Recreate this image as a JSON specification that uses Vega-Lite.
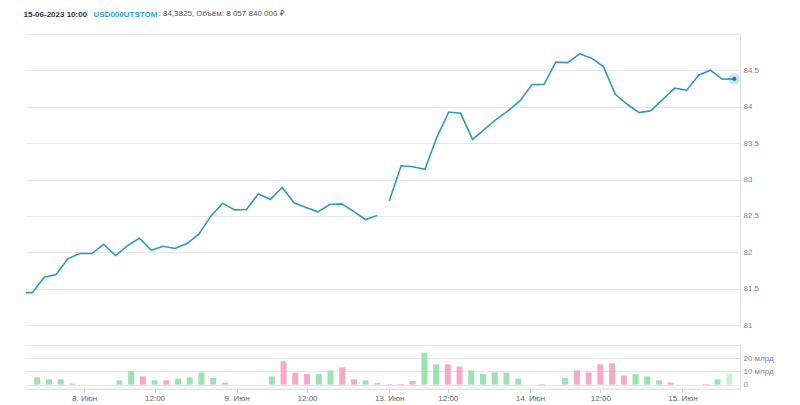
{
  "$schema": "https://vega.github.io/schema/vega-lite/v6.json",
  "padding": {"left": 23, "top": 9, "right": 0, "bottom": 0},
  "config": {"font": "Liberation Sans", "view": {"stroke": null}},
  "datasets": {
    "d": [
      {"i": -1, "t": "2023-06-07 14:00", "price": 81.445, "session": "a"},
      {"i": 0, "t": "2023-06-07 15:00", "price": 81.445, "session": "a", "vol": 5.5, "dir": "up"},
      {"i": 1, "t": "2023-06-07 16:00", "price": 81.656, "session": "a", "vol": 4.0, "dir": "up"},
      {"i": 2, "t": "2023-06-07 17:00", "price": 81.693, "session": "a", "vol": 4.0, "dir": "up"},
      {"i": 3, "t": "2023-06-07 18:00", "price": 81.913, "session": "a", "vol": 0.7, "dir": "up"},
      {"i": 4, "t": "2023-06-08 06:00", "price": 81.982, "session": "a", "vol": 0, "dir": "up"},
      {"i": 5, "t": "2023-06-08 07:00", "price": 81.982, "session": "a", "vol": 0, "dir": "up"},
      {"i": 6, "t": "2023-06-08 08:00", "price": 82.110, "session": "a", "vol": 0, "dir": "up"},
      {"i": 7, "t": "2023-06-08 09:00", "price": 81.955, "session": "a", "vol": 3.3, "dir": "up"},
      {"i": 8, "t": "2023-06-08 10:00", "price": 82.092, "session": "a", "vol": 10.1, "dir": "up"},
      {"i": 9, "t": "2023-06-08 11:00", "price": 82.193, "session": "a", "vol": 6.3, "dir": "down"},
      {"i": 10, "t": "2023-06-08 12:00", "price": 82.028, "session": "a", "vol": 3.3, "dir": "up"},
      {"i": 11, "t": "2023-06-08 13:00", "price": 82.083, "session": "a", "vol": 3.3, "dir": "down"},
      {"i": 12, "t": "2023-06-08 14:00", "price": 82.051, "session": "a", "vol": 4.5, "dir": "up"},
      {"i": 13, "t": "2023-06-08 15:00", "price": 82.120, "session": "a", "vol": 5.5, "dir": "up"},
      {"i": 14, "t": "2023-06-08 16:00", "price": 82.248, "session": "a", "vol": 9.3, "dir": "up"},
      {"i": 15, "t": "2023-06-08 17:00", "price": 82.496, "session": "a", "vol": 5.0, "dir": "up"},
      {"i": 16, "t": "2023-06-08 18:00", "price": 82.675, "session": "a", "vol": 1.5, "dir": "down"},
      {"i": 17, "t": "2023-06-09 06:00", "price": 82.583, "session": "a", "vol": 0, "dir": "up"},
      {"i": 18, "t": "2023-06-09 07:00", "price": 82.588, "session": "a", "vol": 0, "dir": "up"},
      {"i": 19, "t": "2023-06-09 08:00", "price": 82.803, "session": "a", "vol": 0, "dir": "up"},
      {"i": 20, "t": "2023-06-09 09:00", "price": 82.726, "session": "a", "vol": 6.3, "dir": "up"},
      {"i": 21, "t": "2023-06-09 10:00", "price": 82.891, "session": "a", "vol": 17.6, "dir": "down"},
      {"i": 22, "t": "2023-06-09 11:00", "price": 82.679, "session": "a", "vol": 9.1, "dir": "down"},
      {"i": 23, "t": "2023-06-09 12:00", "price": 82.616, "session": "a", "vol": 8.1, "dir": "down"},
      {"i": 24, "t": "2023-06-09 13:00", "price": 82.555, "session": "a", "vol": 8.1, "dir": "up"},
      {"i": 25, "t": "2023-06-09 14:00", "price": 82.657, "session": "a", "vol": 10.8, "dir": "up"},
      {"i": 26, "t": "2023-06-09 15:00", "price": 82.665, "session": "a", "vol": 13.1, "dir": "down"},
      {"i": 27, "t": "2023-06-09 16:00", "price": 82.561, "session": "a", "vol": 4.0, "dir": "down"},
      {"i": 28, "t": "2023-06-09 17:00", "price": 82.450, "session": "a", "vol": 3.3, "dir": "up"},
      {"i": 29, "t": "2023-06-09 18:00", "price": 82.506, "session": "a", "vol": 1.2, "dir": "up"},
      {"i": 30, "t": "2023-06-13 07:00", "price": 82.704, "session": "b", "vol": 0.5, "dir": "down"},
      {"i": 31, "t": "2023-06-13 08:00", "price": 83.189, "session": "b", "vol": 0.5, "dir": "down"},
      {"i": 32, "t": "2023-06-13 09:00", "price": 83.175, "session": "b", "vol": 2.7, "dir": "down"},
      {"i": 33, "t": "2023-06-13 10:00", "price": 83.139, "session": "b", "vol": 24.2, "dir": "up"},
      {"i": 34, "t": "2023-06-13 11:00", "price": 83.580, "session": "b", "vol": 15.4, "dir": "up"},
      {"i": 35, "t": "2023-06-13 12:00", "price": 83.928, "session": "b", "vol": 15.4, "dir": "down"},
      {"i": 36, "t": "2023-06-13 13:00", "price": 83.910, "session": "b", "vol": 13.6, "dir": "down"},
      {"i": 37, "t": "2023-06-13 14:00", "price": 83.552, "session": "b", "vol": 10.8, "dir": "up"},
      {"i": 38, "t": "2023-06-13 15:00", "price": 83.690, "session": "b", "vol": 8.1, "dir": "up"},
      {"i": 39, "t": "2023-06-13 16:00", "price": 83.828, "session": "b", "vol": 9.3, "dir": "up"},
      {"i": 40, "t": "2023-06-13 17:00", "price": 83.946, "session": "b", "vol": 9.1, "dir": "up"},
      {"i": 41, "t": "2023-06-13 18:00", "price": 84.084, "session": "b", "vol": 4.5, "dir": "up"},
      {"i": 42, "t": "2023-06-14 06:00", "price": 84.304, "session": "b", "vol": 0, "dir": "up"},
      {"i": 43, "t": "2023-06-14 07:00", "price": 84.305, "session": "b", "vol": 0.5, "dir": "down"},
      {"i": 44, "t": "2023-06-14 08:00", "price": 84.613, "session": "b", "vol": 0, "dir": "up"},
      {"i": 45, "t": "2023-06-14 09:00", "price": 84.607, "session": "b", "vol": 5.0, "dir": "up"},
      {"i": 46, "t": "2023-06-14 10:00", "price": 84.727, "session": "b", "vol": 10.8, "dir": "down"},
      {"i": 47, "t": "2023-06-14 11:00", "price": 84.668, "session": "b", "vol": 9.3, "dir": "down"},
      {"i": 48, "t": "2023-06-14 12:00", "price": 84.552, "session": "b", "vol": 15.4, "dir": "down"},
      {"i": 49, "t": "2023-06-14 13:00", "price": 84.172, "session": "b", "vol": 16.1, "dir": "down"},
      {"i": 50, "t": "2023-06-14 14:00", "price": 84.034, "session": "b", "vol": 7.0, "dir": "down"},
      {"i": 51, "t": "2023-06-14 15:00", "price": 83.919, "session": "b", "vol": 8.1, "dir": "up"},
      {"i": 52, "t": "2023-06-14 16:00", "price": 83.946, "session": "b", "vol": 6.3, "dir": "up"},
      {"i": 53, "t": "2023-06-14 17:00", "price": 84.103, "session": "b", "vol": 3.3, "dir": "up"},
      {"i": 54, "t": "2023-06-14 18:00", "price": 84.255, "session": "b", "vol": 1.5, "dir": "down"},
      {"i": 55, "t": "2023-06-15 06:00", "price": 84.227, "session": "b", "vol": 0, "dir": "up"},
      {"i": 56, "t": "2023-06-15 07:00", "price": 84.434, "session": "b", "vol": 0, "dir": "up"},
      {"i": 57, "t": "2023-06-15 08:00", "price": 84.503, "session": "b", "vol": 0.5, "dir": "down"},
      {"i": 58, "t": "2023-06-15 09:00", "price": 84.379, "session": "b", "vol": 4.0, "dir": "up"},
      {"i": 59, "t": "2023-06-15 10:00", "price": 84.3825, "session": "b", "vol": 8.06, "dir": "hover"}
    ]
  },
  "spacing": 20,
  "bounds": "flush",
  "vconcat": [
    {
      "width": 714,
      "height": 291,
      "data": {"name": "d"},
      "encoding": {
        "x": {
          "field": "i", "type": "quantitative",
          "scale": {"domain": [-0.53, 59.48], "nice": false, "zero": false},
          "axis": {
            "orient": "top", "labels": false, "ticks": false, "domain": false, "grid": false,
            "title": "USD000UTSTOM", "titleX": 67, "titleY": -18, "titleAlign": "left", "titleAnchor": "start",
            "titleBaseline": "alphabetic", "titleColor": "#3aa0cf", "titleFontWeight": "bold", "titleFontSize": 8
          }
        },
        "y": {
          "field": "price", "type": "quantitative",
          "scale": {"domain": [81, 85], "nice": false, "zero": false},
          "axis": {
            "orient": "right", "values": [81, 81.5, 82, 82.5, 83, 83.5, 84, 84.5, 85],
            "labelExpr": "datum.value == 85 ? '' : format(datum.value, '.1~f')",
            "labelOverlap": false, "labelBound": false,
            "grid": true, "gridColor": "#e6e6e6", "ticks": false, "domain": true, "domainColor": "#e3e3e3",
            "labelPadding": 3, "labelFontSize": 8, "labelColor": "#7a8591", "labelBaseline": "middle",
            "title": "15-06-2023 10:00", "titleAngle": 0, "titleX": -717, "titleY": -18, "titleAlign": "left",
            "titleAnchor": "start", "titleBaseline": "alphabetic", "titleColor": "#333333", "titleFontWeight": "bold", "titleFontSize": 8
          }
        }
      },
      "layer": [
        {
          "mark": {"type": "line", "color": "#2f98bd", "strokeWidth": 1.6, "clip": true},
          "encoding": {
            "detail": {"field": "session", "type": "nominal"}
          }
        },
        {
          "transform": [{"filter": "datum.i == 59"}],
          "mark": {"type": "point", "filled": true, "color": "#2f98bd", "opacity": 0.25, "size": 130}
        },
        {
          "transform": [{"filter": "datum.i == 59"}],
          "mark": {"type": "point", "filled": true, "color": "#1c7fb3", "opacity": 1, "size": 18}
        }
      ]
    },
    {
      "width": 714,
      "height": 43.6,
      "data": {"name": "d"},
      "transform": [{"filter": "isValid(datum.vol)"}],
      "mark": {"type": "bar", "size": 6},
      "encoding": {
        "x": {
          "field": "i", "type": "quantitative",
          "scale": {"domain": [-0.53, 59.48], "nice": false, "zero": false},
          "axis": {
            "orient": "bottom", "values": [4, 10, 17, 23, 30, 35, 42, 48, 55],
            "labelExpr": "datum.value == 4 ? '8. Июн' : datum.value == 17 ? '9. Июн' : datum.value == 30 ? '13. Июн' : datum.value == 42 ? '14. Июн' : datum.value == 55 ? '15. Июн' : '12:00'",
            "labelOverlap": false,
            "grid": false, "tickSize": 4, "tickColor": "#ccd6eb", "domainColor": "#ccd6eb",
            "labelFontSize": 8, "labelColor": "#666666", "labelPadding": 2,
            "title": ": 84,3825, Объём: 8 057 840 000 ₽", "titleX": 132, "titleY": -373.3, "titleAlign": "left",
            "titleAnchor": "start", "titleBaseline": "alphabetic", "titleColor": "#555555", "titleFontWeight": "normal", "titleFontSize": 8
          }
        },
        "y": {
          "field": "vol", "type": "quantitative",
          "scale": {"domain": [-3, 30], "nice": false, "zero": false},
          "axis": {
            "orient": "right", "values": [0, 10, 20, 30],
            "labelExpr": "datum.value == 0 ? '0' : datum.value == 30 ? '' : datum.value + ' млрд'",
            "labelOverlap": false,
            "grid": true, "gridColor": "#e6e6e6", "ticks": false, "domain": true, "domainColor": "#e3e3e3",
            "labelPadding": 3, "labelFontSize": 8, "labelColor": "#7a8591", "labelBaseline": "middle", "title": null
          }
        },
        "y2": {"datum": 0},
        "color": {
          "field": "dir", "type": "nominal",
          "scale": {"domain": ["up", "down", "hover"], "range": ["#9de3b2", "#f7a8c4", "#c6f3d3"]},
          "legend": null
        }
      }
    }
  ]
}
